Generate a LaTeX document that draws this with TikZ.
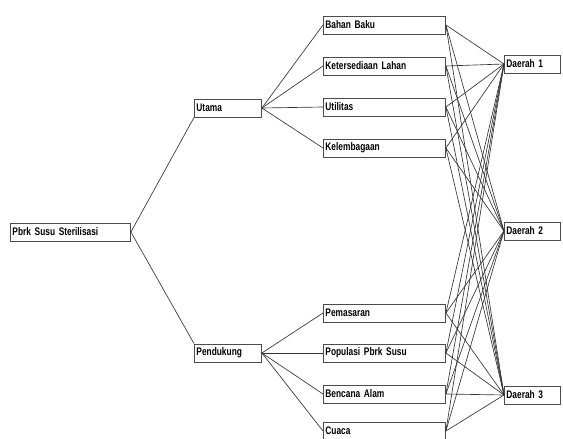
\documentclass[tikz,border=0pt]{standalone}
\usepackage{fontspec}
\setmainfont[FakeStretch=0.76]{Liberation Sans}
\begin{document}
\begin{tikzpicture}[x=1pt,y=-1pt,
  box/.style={draw=black!70, line width=0.9pt, anchor=west, minimum height=18pt,
    inner xsep=2pt, inner ysep=0pt, align=left, font=\fontsize{11}{12}\selectfont\bfseries},
  link/.style={draw=black!80, line width=0.65pt}]
\clip (0,0) rectangle (563,439);
\fill[white] (0,0) rectangle (563,439);
% root and level 1
\node[box, text width=116pt] (root) at (10,232) {Pbrk Susu Sterilisasi};
\node[box, text width=63pt] (ut) at (194,108) {Utama};
\node[box, text width=63pt] (pd) at (194,353) {Pendukung};
% criteria
\node[box, text width=118pt] (c1) at (323,25) {Bahan Baku};
\node[box, text width=118pt] (c2) at (323,66) {Ketersediaan Lahan};
\node[box, text width=118pt] (c3) at (323,107) {Utilitas};
\node[box, text width=118pt] (c4) at (323,148) {Kelembagaan};
\node[box, text width=118pt] (c5) at (323,313) {Pemasaran};
\node[box, text width=118pt] (c6) at (323,353) {Populasi Pbrk Susu};
\node[box, text width=118pt] (c7) at (323,394) {Bencana Alam};
\node[box, text width=118pt] (c8) at (323,431) {Cuaca};
% alternatives
\node[box, text width=52pt] (d1) at (504,64) {Daerah 1};
\node[box, text width=52pt] (d2) at (504,231) {Daerah 2};
\node[box, text width=52pt] (d3) at (504,395) {Daerah 3};
% connectors
\draw[link] (root.east) -- (ut.south west);
\draw[link] (root.east) -- (pd.north west);
\foreach \c in {c1,c2,c3,c4} \draw[link] (ut.east) -- (\c.west);
\foreach \c in {c5,c6,c7,c8} \draw[link] (pd.east) -- (\c.west);
\foreach \c in {c1,c2,c3,c4,c5,c6,c7,c8}
  \foreach \d in {d1,d2,d3}
    \draw[link] (\c.east) -- (\d.west);
\end{tikzpicture}
\end{document}
